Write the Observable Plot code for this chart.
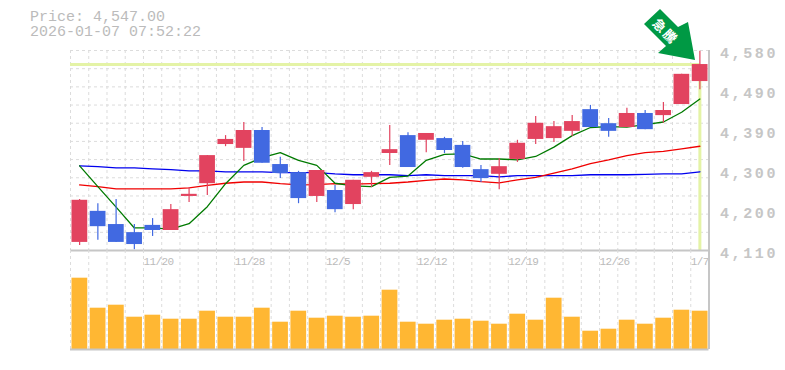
<!DOCTYPE html>
<html>
<head>
<meta charset="utf-8">
<script src="https://cdn.jsdelivr.net/npm/d3@7"></script>
<script src="https://cdn.jsdelivr.net/npm/@observablehq/plot@0.6"></script>
<style>
html,body{margin:0;padding:0;background:#fff}
#wrap{position:relative;width:785px;height:370px;overflow:hidden}
#head{position:absolute;left:30px;top:10px;font:15px/15px "Liberation Mono",monospace;color:#bbb;white-space:pre}
#price,#vol{position:absolute;left:0}
#price{top:0}
#vol{top:250px}
#arrow{position:absolute;left:0;top:0}
[aria-label="y-axis tick label"] text{letter-spacing:2.6px;font-weight:bold}
#vol [aria-label="text"] text{letter-spacing:-.6px}
</style>
</head>
<body>
<div id="wrap">
<div id="head"></div>
<div id="price"></div>
<div id="vol"></div>
<svg id="arrow" width="785" height="70">
<polygon points="695,60 658,53 666,46 644,24 660,9 678,27 688,22" fill="#009944"/>
<text transform="translate(666,31) rotate(45)" fill="#fff" font-family="Noto Sans CJK JP" font-weight="700" font-size="13" text-anchor="middle" dominant-baseline="central" letter-spacing="2">急騰</text>
</svg>
</div>
<script>
const priceLabel = "Price: 4,547.00";
const stamp = "2026-01-07 07:52:22";
const lastPrice = 4547;

const opens  = [4129,4202,4171,4152,4169,4157,4237,4267,4359,4350,4392,4312,4293,4237,4251,4218,4282,4338,4380,4369,4373,4357,4300,4289,4324,4371,4373,4390,4441,4408,4399,4432,4427,4453,4507];
const closes = [4228,4166,4129,4124,4157,4206,4242,4333,4371,4392,4315,4291,4232,4298,4206,4275,4293,4347,4305,4385,4345,4305,4279,4307,4362,4409,4401,4413,4399,4390,4432,4394,4439,4524,4547];
const highs  = [4230,4220,4230,4171,4185,4218,4258,4333,4380,4411,4399,4329,4296,4298,4263,4275,4296,4404,4387,4385,4376,4366,4310,4326,4369,4425,4413,4427,4451,4420,4444,4439,4458,4524,4578];
const lows   = [4122,4134,4129,4112,4143,4157,4223,4239,4354,4319,4315,4279,4220,4223,4199,4206,4258,4310,4305,4340,4338,4303,4270,4253,4317,4359,4364,4378,4399,4376,4399,4394,4409,4453,4488];
const maShort = [4309,4260,4212,4163,4163,4160,4173,4213,4267,4310,4328,4340,4322,4310,4268,4262,4260,4282,4285,4322,4336,4337,4325,4325,4323,4331,4353,4380,4399,4401,4400,4406,4412,4435,4466];
const maMid   = [4264,4260,4255,4255,4255,4255,4257,4263,4268,4271,4271,4267,4264,4265,4267,4266,4267,4268,4271,4275,4278,4276,4272,4269,4276,4282,4292,4302,4314,4323,4333,4340,4343,4349,4355];
const maLong  = [4309,4307,4304,4304,4302,4300,4297,4297,4295,4295,4295,4293,4293,4293,4290,4288,4288,4288,4286,4288,4286,4286,4286,4283,4286,4286,4286,4286,4288,4288,4288,4289,4290,4290,4295];
const volumes = [713,413,443,323,343,303,303,383,323,323,413,273,383,313,333,323,333,593,273,253,293,303,283,253,353,293,513,323,183,203,293,253,313,393,383];
const dateLabels = ["11/20","11/28","12/5","12/12","12/19","12/26","1/7"];
const dateIndex = [4,9,14,19,24,29,34];
const priceTicks = [4580,4486,4392,4298,4204,4110];

document.getElementById("head").textContent = priceLabel + "\n" + stamp;

const RED = "#e2435f", BLUE = "#4169e1", N = closes.length;
const candles = closes.map((c,i)=>({i,open:opens[i],close:c,high:highs[i],low:lows[i],vol:volumes[i],
  short:maShort[i],mid:maMid[i],long:maLong[i],up:c>=opens[i]}));
const gridX = d3.range(N+1);
const gridY = d3.range(12).map(k=>4110+k*470/11);
const xScale = {type:"linear",domain:[0,N],range:[70,708.5]};
const dash = {stroke:"#dcdcdc",strokeWidth:1,strokeDasharray:"3,3"};
const axisGrey = "#c6c6c6";

const price = Plot.plot({
  width:785,height:250,marginTop:50,marginBottom:0,marginLeft:70,marginRight:76.5,
  style:{background:"transparent",overflow:"visible"},
  x:{...xScale,axis:null},
  y:{domain:[4110,4580],range:[250,50]},
  marks:[
    Plot.ruleX(gridX,{x:d=>d,...dash}),
    Plot.ruleY(gridY,{y:d=>d,...dash}),
    Plot.ruleY([lastPrice],{x1:0,x2:N-0.5,stroke:"#e4f3a6",strokeWidth:3}),
    Plot.ruleX([N-0.5],{y1:4110,y2:lastPrice,stroke:"#e4f3a6",strokeWidth:3}),
    Plot.line(candles,{x:d=>d.i+.5,y:"long",stroke:"#0000ee",strokeWidth:1.3}),
    Plot.line(candles,{x:d=>d.i+.5,y:"mid",stroke:"#f00000",strokeWidth:1.3}),
    Plot.line(candles,{x:d=>d.i+.5,y:"short",stroke:"#007a00",strokeWidth:1.3}),
    Plot.ruleX(candles,{x:d=>d.i+.5,y1:"low",y2:"high",stroke:d=>d.up?RED:BLUE,strokeWidth:1.2}),
    Plot.rect(candles,{x1:"i",x2:d=>d.i+1,y1:"open",y2:"close",fill:d=>d.up?RED:BLUE,insetLeft:1.5,insetRight:1}),
    Plot.ruleY([4110],{x1:0,x2:N,stroke:axisGrey,strokeWidth:2}),
    Plot.ruleX([N],{y1:4110,y2:4580,stroke:axisGrey,strokeWidth:2}),
    Plot.axisY({anchor:"right",ticks:priceTicks,tickSize:0,tickPadding:11,dy:3,
      tickFormat:d=>d3.format(",")(Math.round(d/10)*10),fontSize:15,fontFamily:"Liberation Mono",fill:"#c6c6c6",textAnchor:"start",label:null})
  ]
});
document.getElementById("price").append(price);

const vol = Plot.plot({
  width:785,height:120,marginTop:0,marginBottom:21,marginLeft:70,marginRight:76.5,
  style:{background:"transparent",overflow:"visible"},
  x:{...xScale,axis:null},
  y:{domain:[0,990],range:[99,0],axis:null},
  marks:[
    Plot.ruleX(gridX,{x:d=>d,...dash}),
    Plot.text(dateLabels,{x:(d,k)=>dateIndex[k],text:d=>d,frameAnchor:"top",lineAnchor:"top",dy:7,textAnchor:"start",
      fontSize:11,fontFamily:"Liberation Mono",fill:"#bbb"}),
    Plot.rect(candles,{x1:"i",x2:d=>d.i+1,y1:0,y2:"vol",fill:"#ffb733",insetLeft:1.5,insetRight:1}),
    Plot.ruleY([0],{x1:0,x2:N,stroke:axisGrey,strokeWidth:2}),
    Plot.ruleX([N],{y1:0,y2:990,stroke:axisGrey,strokeWidth:2})
  ]
});
document.getElementById("vol").append(vol);
</script>
</body>
</html>
